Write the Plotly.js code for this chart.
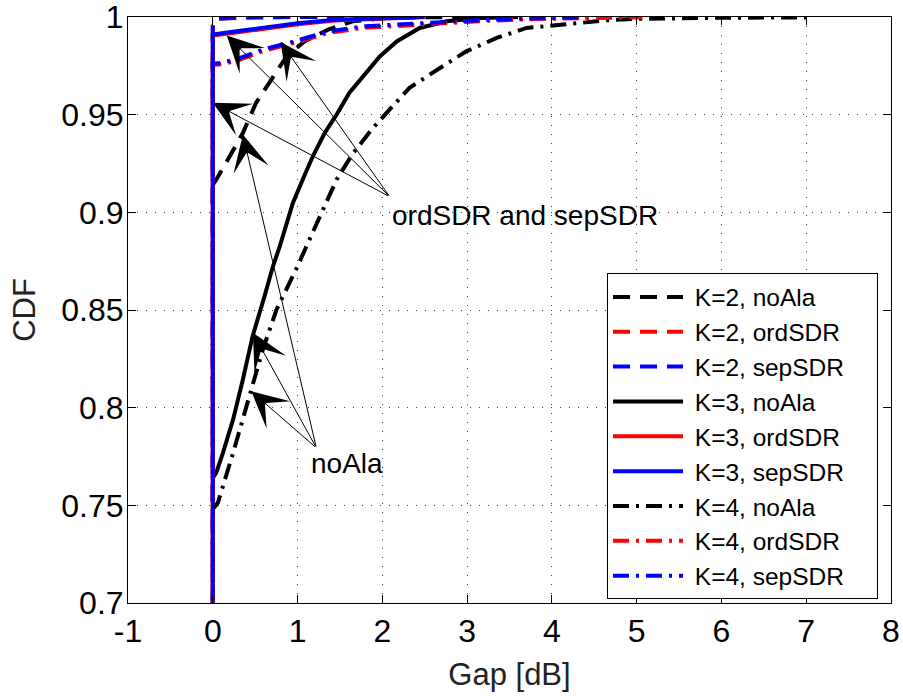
<!DOCTYPE html>
<html>
<head>
<meta charset="utf-8">
<script src="https://cdn.plot.ly/plotly-3.0.1.min.js"></script>
<style>html,body{margin:0;padding:0;background:#fff;}#chart{width:903px;height:696px;}</style>
</head>
<body>
<div id="chart"></div>
<script>
// ---- data ----
const seriesNames = ["K=2, noAla","K=2, ordSDR","K=2, sepSDR","K=3, noAla","K=3, ordSDR","K=3, sepSDR","K=4, noAla","K=4, ordSDR","K=4, sepSDR"];

const gapK2noAla = [0, 0.04, 0.2, 0.355, 0.51, 0.67, 0.87, 1.08, 1.36, 1.65, 2.05, 2.6, 3.2];
const cdfK2noAla = [0.914, 0.9167, 0.9287, 0.9406, 0.956, 0.967, 0.9798, 0.9875, 0.9935, 0.9978, 0.9995, 0.9999, 1.0];
const gapK2ordSDR = [0, 0, 0.05, 0.4, 1.0, 2.0];
const cdfK2ordSDR = [0.6, 0.9955, 0.9990, 0.9997, 1.0, 1.0];
const gapK2sepSDR = [0, 0, 0.05, 0.4, 1.0, 2.0];
const cdfK2sepSDR = [0.6, 0.996, 0.9992, 0.9998, 1.0, 1.0];

const gapK3noAla = [0, 0.04, 0.12, 0.24, 0.355, 0.47, 0.61, 0.71, 0.79, 0.87, 0.945, 1.06, 1.18, 1.32, 1.46, 1.61, 1.77, 1.97, 2.17, 2.44, 2.76, 3.15, 3.6];
const cdfK3noAla = [0.764, 0.7666, 0.7769, 0.794, 0.8144, 0.8366, 0.857, 0.8724, 0.8826, 0.8946, 0.9048, 0.9167, 0.9287, 0.9406, 0.950, 0.9611, 0.9696, 0.9798, 0.9875, 0.9944, 0.9978, 0.9995, 1.0];
const gapK3ordSDR = [0, 0, 0.3, 0.69, 1.0, 1.44, 2.0, 2.5];
const cdfK3ordSDR = [0.6, 0.9905, 0.9922, 0.9946, 0.9963, 0.9982, 0.9993, 1.0];
const gapK3sepSDR = [0, 0, 0.3, 0.69, 1.0, 1.44, 2.0, 2.5];
const cdfK3sepSDR = [0.6, 0.991, 0.9928, 0.9952, 0.9968, 0.9986, 0.9996, 1.0];

const gapK4noAla = [0, 0.06, 0.24, 0.434, 0.59, 0.75, 0.85, 1.0, 1.14, 1.30, 1.46, 1.65, 1.89, 2.05, 2.32, 2.68, 2.99, 3.35, 3.70, 4.25, 4.64, 4.96, 5.35, 6.0, 7.0];
const cdfK4noAla = [0.748, 0.7513, 0.7769, 0.8058, 0.8297, 0.850, 0.8587, 0.8724, 0.886, 0.9014, 0.9167, 0.930, 0.9432, 0.9509, 0.9637, 0.9739, 0.9824, 0.9893, 0.9944, 0.9966, 0.9983, 0.999, 0.9993, 0.9996, 0.9998];
const gapK4ordSDR = [0, 0, 0.08, 0.26, 0.61, 1.0, 1.36, 1.77, 2.17, 2.56, 3.2, 3.8, 4.4, 5.07];
const cdfK4ordSDR = [0.6, 0.9755, 0.9757, 0.9773, 0.9828, 0.9872, 0.9918, 0.9944, 0.9954, 0.9965, 0.998, 0.999, 0.9994, 0.9998];
const gapK4sepSDR = [0, 0, 0.08, 0.26, 0.61, 1.0, 1.36, 1.77, 2.17, 2.56, 3.2, 3.8, 4.4];
const cdfK4sepSDR = [0.6, 0.976, 0.9765, 0.9781, 0.9836, 0.988, 0.9926, 0.9952, 0.9961, 0.9972, 0.9985, 0.9993, 0.9998];

const xTickVals = [-1, 0, 1, 2, 3, 4, 5, 6, 7, 8];
const xTickText = ["-1", "0", "1", "2", "3", "4", "5", "6", "7", "8"];
const yTickVals = [0.7, 0.75, 0.8, 0.85, 0.9, 0.95, 1];
const yTickText = ["0.7", "0.75", "0.8", "0.85", "0.9", "0.95", "1"];

// annotation anchor points (data coordinates)
const ordSdrTail = [2.087, 0.908];
const ordSdrHeads = [[0.0, 0.9561], [0.165, 0.9905], [0.80, 0.9872]];
const noAlaTail = [1.222, 0.7794];
const noAlaHeads = [[0.355, 0.9398], [0.473, 0.8383], [0.454, 0.8084]];
const ordSdrLabel = {text: "ordSDR and sepSDR", x: 3.68, y: 0.8983};
const noAlaLabel = {text: "noAla", x: 1.589, y: 0.7716};

// ---- styling ----
const FONT = "Liberation Sans, Arial, Helvetica, sans-serif";
const BLACK = "#000000", RED = "#ff0000", BLUE = "#0000ff";
const DASH = "17px,10px";
const DASHDOT = "16px,7px,3px,7px";
const LW = 4;
const NBSP = "\u00A0";

const gaps = [gapK2noAla, gapK2ordSDR, gapK2sepSDR, gapK3noAla, gapK3ordSDR, gapK3sepSDR, gapK4noAla, gapK4ordSDR, gapK4sepSDR];
const cdfs = [cdfK2noAla, cdfK2ordSDR, cdfK2sepSDR, cdfK3noAla, cdfK3ordSDR, cdfK3sepSDR, cdfK4noAla, cdfK4ordSDR, cdfK4sepSDR];
const colors = [BLACK, RED, BLUE, BLACK, RED, BLUE, BLACK, RED, BLUE];
const dashes = [DASH, DASH, DASH, "solid", "solid", "solid", DASHDOT, DASHDOT, DASHDOT];

const traces = seriesNames.map((n, i) => ({
  type: "scatter", mode: "lines", name: NBSP + n + NBSP + NBSP + NBSP + NBSP,
  x: gaps[i], y: cdfs[i],
  line: {color: colors[i], width: LW, dash: dashes[i]},
  hoverinfo: "skip"
}));

const annotations = [];
ordSdrHeads.forEach(h => annotations.push({
  x: h[0], y: h[1], ax: ordSdrTail[0], ay: ordSdrTail[1],
  xref: "x", yref: "y", axref: "x", ayref: "y",
  text: "", showarrow: true, arrowhead: 3, arrowsize: 6, arrowwidth: 1, arrowcolor: BLACK,
  standoff: 0, startstandoff: 0
}));
noAlaHeads.forEach(h => annotations.push({
  x: h[0], y: h[1], ax: noAlaTail[0], ay: noAlaTail[1],
  xref: "x", yref: "y", axref: "x", ayref: "y",
  text: "", showarrow: true, arrowhead: 3, arrowsize: 6, arrowwidth: 1, arrowcolor: BLACK,
  standoff: 0, startstandoff: 0
}));
[ordSdrLabel, noAlaLabel].forEach(l => annotations.push({
  x: l.x, y: l.y, xref: "x", yref: "y", text: l.text, showarrow: false,
  xanchor: "center", yanchor: "middle", font: {family: FONT, size: 28, color: BLACK}
}));

const axisCommon = {
  showline: true, linecolor: BLACK, linewidth: 1, mirror: "ticks",
  ticks: "inside", ticklen: 8, tickcolor: BLACK, tickwidth: 1,
  showgrid: true, gridcolor: "#444", gridwidth: 1, griddash: "1px,8px",
  zeroline: false, tickfont: {family: FONT, size: 32, color: BLACK},
  tickmode: "array", ticklabeloverflow: "allow"
};

const layout = {
  width: 903, height: 696,
  margin: {l: 128, r: 12, t: 17, b: 93},
  paper_bgcolor: "#ffffff", plot_bgcolor: "#ffffff",
  showlegend: true,
  legend: {
    x: 0.983, y: 0.006, xanchor: "right", yanchor: "bottom",
    bgcolor: "#ffffff", bordercolor: BLACK, borderwidth: 1,
    font: {family: FONT, size: 24.5, color: BLACK},
    itemwidth: 70, traceorder: "normal"
  },
  xaxis: Object.assign({}, axisCommon, {
    range: [-1, 8], tickvals: xTickVals, ticktext: xTickText,
    title: {text: "Gap [dB]", font: {family: FONT, size: 31, color: "#222"}, standoff: 14}
  }),
  yaxis: Object.assign({}, axisCommon, {
    range: [0.7, 1], tickvals: yTickVals, ticktext: yTickText, ticklabelstandoff: -3,
    title: {text: "CDF", font: {family: FONT, size: 31, color: "#222"}, standoff: 16}
  }),
  annotations: annotations
};

Plotly.newPlot("chart", traces, layout, {staticPlot: true, displayModeBar: false});
</script>
</body>
</html>
